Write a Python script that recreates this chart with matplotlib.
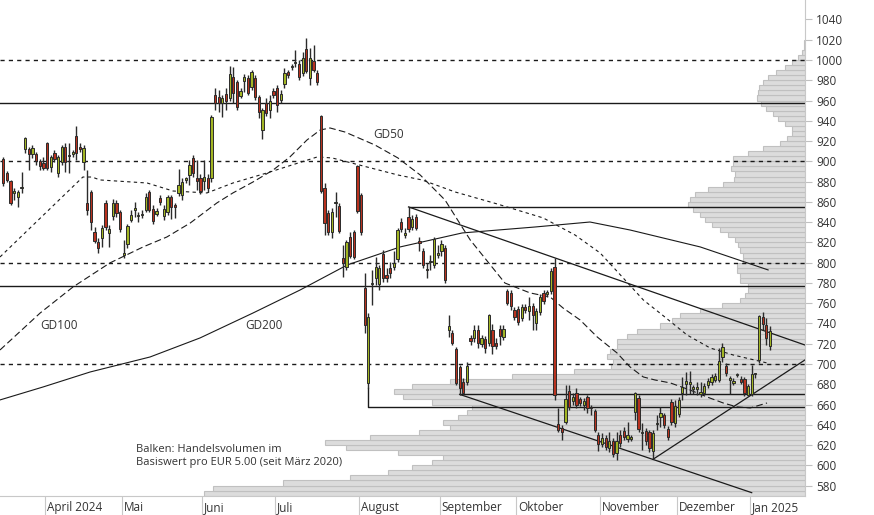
import numpy as np
import pandas as pd
import matplotlib
matplotlib.use("Agg")
import matplotlib.pyplot as plt

plt.rcParams['font.family'] = ['Open Sans', 'DejaVu Sans']

# trading days shown (Xetra-like calendar)
holidays = ['2024-03-29', '2024-04-01', '2024-05-01', '2024-12-25', '2024-12-26', '2025-01-01']
dates = pd.bdate_range('2024-03-13', '2025-01-09', freq='C', holidays=holidays)

# daily OHLC
opens = [902, 888, 881, 869, 865, 874, 912, 912, 907, 907, 900, 898, 918, 894, 908, 888, 899, 914, 906, 907,
         925, 914, 899, 859, 870, 830, 820, 824, 859, 829, 846, 859, 850, 808, 818, 842, 852, 846, 847, 852,
         870, 853, 848, 864, 846, 850, 865, 857, 869, 867, 882, 886, 903, 884, 884, 881, 884, 884, 965, 963,
         958, 966, 962, 983, 978, 964, 979, 982, 973, 982, 963, 931, 958, 951, 969, 972, 961, 976, 988, 993,
         997, 996, 987, 1011, 982, 999, 987, 945, 874, 849, 830, 859, 856, 805, 796, 825, 830, 895, 867, 775,
         681, 779, 785, 779, 809, 788, 795, 796, 804, 840, 827, 845, 835, 845, 821, 811, 794, 801, 798, 808,
         811, 814, 734, 731, 715, 697, 682, 682, 726, 726, 734, 720, 725, 721, 734, 721, 735, 727, 772, 770,
         753, 754, 745, 756, 752, 757, 740, 751, 770, 769, 772, 796, 641, 637, 643, 673, 663, 671, 665, 660,
         667, 657.5, 654, 630, 621, 627, 617, 624, 612, 630, 634, 626, 626, 653, 666, 632, 634, 633, 614, 641,
         648, 650, 636, 662, 642, 651, 671, 680, 681, 676, 676, 671, 671, 679, 682, 684, 684, 707, 698, 685,
         681, 689, 685, 685, 669, 670, 690, 704, 746, 738, 718]
highs = [904, 890, 882, 874, 872, 889, 924, 914, 916, 909, 902, 904, 919, 906, 911, 906, 916, 918, 918, 911,
         935, 918, 916, 891, 872, 835, 824, 837, 862, 837, 863, 862, 852, 822, 838, 852, 860, 850, 852, 869,
         872, 857, 854, 867, 857, 867, 867, 859, 892, 884, 885, 901, 906, 901, 887, 901, 887, 946, 972, 970,
         965, 972, 994, 993, 980, 972, 986, 985, 990, 985, 965, 953, 962, 965, 972, 975, 970, 992, 990, 996,
         1010, 1000, 1008, 1022, 1012, 1015, 990, 946, 879, 852, 854, 870, 859, 817, 822, 830, 832, 896, 869, 790,
         750, 793, 806, 798, 812, 795, 801, 811, 834, 844, 834, 855, 847, 848, 825, 814, 800, 808, 825, 817,
         822, 817, 748, 734, 717, 699, 686, 702, 729, 738, 738, 729, 728, 749, 739, 726, 738, 738, 774, 773,
         756, 757, 759, 759, 766, 760, 755, 769, 773, 773, 795, 805, 657, 640, 679, 679, 671, 676, 667, 666,
         669, 660, 656, 633, 632, 630, 633, 627, 633, 635, 638, 643, 630, 672, 669, 642, 637, 635, 635, 650,
         658, 652, 639, 665, 664, 667, 687, 692, 693, 679, 682, 682, 681, 686, 690, 691, 716, 721, 701, 688,
         686, 691, 688, 687, 680, 699, 691, 748, 751, 745, 737]
lows = [876, 880, 857, 862, 855, 869, 908, 891, 903, 896, 891, 891, 891, 889, 899, 885, 896, 889, 888, 904,
        901, 909, 891, 847, 832, 819, 810, 815, 832, 815, 842, 845, 830, 805, 814, 840, 845, 840, 844, 850,
        850, 838, 846, 857, 842, 847, 843, 844, 866, 862, 879, 877, 885, 872, 868, 872, 870, 880, 951, 949,
        944, 951, 960, 958, 951, 962, 968, 965, 970, 961, 943, 922, 945, 943, 962, 949, 958, 972, 982, 990,
        993, 980, 984, 987, 975, 988, 975, 869, 827, 827, 824, 845, 829, 786, 793, 805, 804, 849, 827, 731,
        676, 758, 778, 773, 781, 781, 785, 793, 801, 830, 824, 830, 832, 832, 811, 795, 785, 793, 795, 805,
        807, 780, 727, 719, 679, 669, 669, 679, 719, 722, 716, 717, 711, 718, 710, 715, 719, 724, 758, 753,
        743, 738, 742, 750, 743, 734, 734, 748, 759, 766, 769, 664, 633, 625, 641, 655, 660, 657, 659, 655,
        652, 650, 633, 614, 618, 615, 613, 608, 605, 618, 625, 623, 624, 645, 633, 615, 620, 613, 606, 635,
        638, 637, 625, 640, 638, 648, 664, 669, 670, 670, 669, 667, 669, 676, 679, 682, 682, 702, 688, 670,
        679, 687, 680, 668, 668, 668, 686, 701, 734, 719, 714]
closes = [879, 882, 859, 871, 870, 875, 923, 907, 913, 900, 895, 893, 893, 904, 902, 904, 914, 899, 905, 909,
          908, 912, 913, 852, 840, 821, 814, 834, 835, 833, 859, 849, 833, 810, 836, 847, 854, 846.5, 848, 865,
          852, 841, 851, 860, 853, 865, 855, 855, 877, 880, 883, 896, 888, 881, 871, 885, 874, 944, 958, 958,
          962, 960, 986, 967, 954, 969, 983, 967, 988, 963, 949, 951, 948, 960, 965, 956, 966, 987, 985, 993.5,
          998, 983, 1002, 989, 1002, 990, 978, 871, 839, 830, 850, 860, 831, 800, 820, 807, 806, 851, 830, 738,
          746, 780, 796, 795, 785, 785, 790, 800, 832, 833, 829, 833, 843, 834, 819, 798, 793, 801.5, 823, 810,
          818, 783, 737, 721, 681, 676, 671, 698, 723, 734, 721, 726, 716, 748, 718, 718, 728, 735, 760, 757,
          746, 741, 756, 753, 757, 748, 752, 766, 762, 771, 792, 669, 635, 633, 665, 658, 667, 660, 661, 663,
          657, 657, 635, 621, 627, 618, 624, 611, 624, 622, 628, 630, 628, 671, 636, 632.5, 624, 617, 632, 642,
          652, 640, 628, 643, 659, 664, 677, 683, 681.5, 676.5, 676.5, 671.5, 678, 683, 687, 688, 703, 717, 691, 685.5,
          683, 689.5, 682, 671, 678, 690, 690.5, 747, 739, 726, 733]

# moving averages (trading-day index, price)
gd200_idx = [-0.9, 10.9, 23.8, 40.2, 53.9, 68.4, 81.3, 94.2, 108.7, 125.7, 145.7, 160.7, 171.7, 190.9, 209.5]
gd200_val = [664.5, 677.3, 692.1, 706.9, 725.7, 750.3, 773.0, 797.7, 815.5, 829.3, 835.2, 840.1, 832.2, 815.5, 792.8]

# fine dashed average
gd100_idx = [-0.9, 21.8, 24.3, 26.5, 39.4, 46.5, 55.8, 62.9, 72.2, 86.0, 90.1, 108.1, 114.7, 123.8, 135.3,
             147.9, 156.6, 163.5, 170.3, 175.3, 180.5, 187.3, 193.6, 199.9, 209.2]
gd100_val = [805.6, 884.5, 884.5, 881.6, 878.6, 870.7, 868.8, 878.6, 888.5, 904.3, 903.3, 886.5, 881.6, 869.7, 857.9,
             844.1, 827.3, 809.5, 782.9, 763.2, 748.4, 728.6, 715.8, 708.9, 701.0]

# long dashed average
gd50_idx = [-0.9, 10.1, 19.1, 29.2, 38.3, 44.8, 51.2, 58.5, 62.9, 68.4, 73.9, 78.5, 83.2, 86.8, 89.5, 93.6,
            101.8, 108.1, 114.2, 121.0, 127.9, 137.4, 144.3, 149.8, 153.3, 158.0, 162.7, 168.1, 171.7, 175.3,
            178.5, 182.7, 188.1, 192.8, 197.2, 201.0, 204.6, 209.2]
gd50_val = [713.8, 750.3, 776.0, 799.7, 815.5, 825.3, 839.1, 858.9, 868.8, 879.6, 891.4, 904.3, 921.1, 930.9, 932.9,
            928.9, 916.1, 903.3, 886.5, 861.8, 822.4, 779.9, 770.1, 766.1, 755.3, 743.4, 726.6, 710.9, 697.0, 687.2,
            684.2, 681.3, 674.3, 667.4, 661.5, 657.6, 656.6, 661.5]

# trend lines and marked levels
trend_down_idx = [111, 219.6]
trend_down_val = [855, 718.7]
channel_idx = [125, 205]
channel_val = [670, 573]
trend_up_idx = [178, 219.6]
trend_up_val = [606, 704]
dashed_levels = [1000, 900, 800, 700]
solid_levels = [957.5, 777]
level_855_start = 111
level_670_start = 125
level_657_start = 100
level_657_top = 676

# volume profile: price buckets of EUR 5 (lower edge) and relative volume
vol_price = list(range(570, 1020, 5))
vol_amount = [601, 592, 522, 455, 417, 393, 373, 362, 407, 459, 480, 435, 386, 355, 362, 347, 338, 333, 373, 402,
              411, 393, 355, 293, 231, 194, 192, 198, 195, 188, 188, 178, 168, 145, 133, 125, 105, 83, 65, 60,
              57, 57, 65, 65, 68, 68, 62, 62, 65, 67, 70, 77, 85, 93, 100, 105, 112, 117, 115, 110,
              97, 82, 71, 70, 74, 72, 72, 57, 42, 25, 18, 13, 13, 20, 27, 32, 39, 44, 48, 47,
              46, 42, 37, 29, 20, 13, 7, 3, 1, 1]

month_labels = ['April 2024', 'Mai', 'Juni', 'Juli', 'August', 'September', 'Oktober', 'November', 'Dezember', 'Jan 2025']

idx = np.arange(len(dates))
o = np.array(opens, float)
h = np.array(highs, float)
l = np.array(lows, float)
c = np.array(closes, float)

fig = plt.figure(figsize=(8.74, 5.15), dpi=100)
ax = fig.add_axes([0, 19 / 515, 805 / 874, 496 / 515])
ax2 = ax.twiny()
ax.set_zorder(ax2.get_zorder() + 1)
ax.patch.set_visible(False)

# volume profile behind everything
ax2.barh(np.array(vol_price) + 2.5, vol_amount, height=5, left=0, color='#dcdcdc',
         edgecolor='#c0c0c0', linewidth=0.8)
ax2.set_xlim(805, 0)
ax2.axis('off')

xmin, xmax = -0.9, 219.6
ax.set_xlim(xmin, xmax)
ax.set_ylim(569.7, 1059.2)
ax2.set_ylim(569.7, 1059.2)

lc = '#1a1a1a'
for lv in dashed_levels:
    ax.axhline(lv, color=lc, lw=1, ls=(0, (3, 3)), zorder=2)
for lv in solid_levels:
    ax.axhline(lv, color=lc, lw=1, zorder=2)
ax.plot([level_855_start, xmax], [855, 855], color=lc, lw=1, zorder=2)
ax.plot([level_670_start, xmax], [670, 670], color=lc, lw=1, zorder=2)
ax.plot([level_657_start, level_657_start, xmax], [level_657_top, 657.5, 657.5], color=lc, lw=1, zorder=2)
ax.plot(trend_down_idx, trend_down_val, color=lc, lw=0.9, zorder=2)
ax.plot(channel_idx, channel_val, color=lc, lw=0.9, zorder=2)
ax.plot(trend_up_idx, trend_up_val, color=lc, lw=0.9, zorder=2)

ax.plot(gd200_idx, gd200_val, color=lc, lw=0.8, zorder=2)
ax.plot(gd100_idx, gd100_val, color=lc, lw=0.8, ls=(0, (3, 3)), zorder=2)
ax.plot(gd50_idx, gd50_val, color=lc, lw=0.8, ls=(0, (6, 3)), zorder=2)

# candles
up = c >= o
colors = np.where(up, '#a2b524', '#b8321f')
ax.vlines(idx, l, h, color='#2b2b2b', lw=1, zorder=3)
body_lo = np.minimum(o, c)
body_h = np.maximum(np.abs(c - o), 1.2)
ax.bar(idx, body_h, bottom=body_lo - (body_h - np.abs(c - o)) / 2, width=0.62, color=colors,
       edgecolor='#2b2b2b', linewidth=0.7, zorder=4)

# labels
tc = '#333333'
ax.text(101.3, 926, 'GD50', fontsize=8.5, color=tc, va='center', ha='left')
ax.text(10.1, 737.5, 'GD100', fontsize=8.5, color=tc, va='center', ha='left')
ax.text(66.2, 737.5, 'GD200', fontsize=8.5, color=tc, va='center', ha='left')
ax.text(36.4, 609, 'Balken: Handelsvolumen im\nBasiswert pro EUR 5.00 (seit März 2020)',
        fontsize=8, color=tc, va='center', ha='left', linespacing=1.25)

# axes styling
for s in ['top', 'left']:
    ax.spines[s].set_visible(False)
ax.spines['right'].set_color('#c8c8c8')
ax.spines['bottom'].set_color('#c8c8c8')
ax.yaxis.tick_right()
ax.set_yticks(np.arange(580, 1041, 20))
ax.tick_params(axis='y', length=5, color='#c0c0c0', labelcolor=tc, labelsize=8.5, pad=3)

month_start = [i for i in range(1, len(dates)) if dates[i].month != dates[i - 1].month]
month_pos = [i - 0.5 for i in month_start]
ax.set_xticks(month_pos)
ax.set_xticklabels([])
ax.tick_params(axis='x', length=14, color='#c8c8c8', direction='out')
for pos, lab in zip(month_pos, month_labels):
    ax.annotate(lab, xy=(pos, 0), xycoords=('data', 'axes fraction'), xytext=(1.5, -8),
                textcoords='offset points', ha='left', va='center', fontsize=8.5, color=tc)

fig.savefig('out.png', dpi=100)
